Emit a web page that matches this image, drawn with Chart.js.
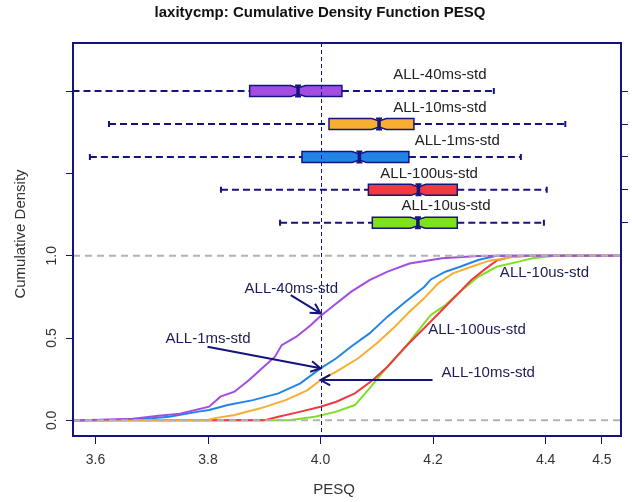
<!DOCTYPE html>
<html>
<head>
<meta charset="utf-8">
<script src="https://cdn.jsdelivr.net/npm/chart.js@4"></script>
<style>
  body { margin: 0; background: #fff; }
  canvas { display: block; }
</style>
</head>
<body>
<canvas id="c" width="632" height="502"></canvas>
<script>
// --- data ---
const seriesNames = ['ALL-40ms-std', 'ALL-10ms-std', 'ALL-1ms-std', 'ALL-100us-std', 'ALL-10us-std'];
const seriesColors = ['#a24ce2', '#f8ae30', '#2384e8', '#ee3a40', '#7fe020'];

const pesq40ms = [3.50, 3.576, 3.667, 3.712, 3.75, 3.802, 3.822, 3.847, 3.873, 3.899, 3.919, 3.931, 3.957, 3.983, 4.0, 4.028, 4.054, 4.087, 4.119, 4.158, 4.216, 4.28, 4.313, 4.60];
const cdf40ms  = [0, 0, 0.01, 0.028, 0.04, 0.083, 0.144, 0.174, 0.245, 0.326, 0.387, 0.457, 0.508, 0.579, 0.634, 0.71, 0.78, 0.852, 0.903, 0.953, 0.984, 0.998, 1, 1];

const pesq10ms = [3.50, 3.796, 3.81, 3.847, 3.893, 3.938, 3.977, 4.0, 4.028, 4.067, 4.1, 4.132, 4.158, 4.184, 4.209, 4.235, 4.268, 4.3, 4.345, 4.364, 4.60];
const cdf10ms  = [0, 0, 0.012, 0.032, 0.073, 0.123, 0.184, 0.245, 0.296, 0.377, 0.468, 0.569, 0.66, 0.741, 0.832, 0.893, 0.933, 0.97, 0.994, 1, 1];

const pesq1ms = [3.50, 3.60, 3.667, 3.731, 3.783, 3.802, 3.835, 3.88, 3.925, 3.964, 4.0, 4.028, 4.054, 4.087, 4.119, 4.151, 4.184, 4.196, 4.222, 4.248, 4.28, 4.313, 4.60];
const cdf1ms  = [0, 0, 0.004, 0.022, 0.053, 0.063, 0.093, 0.123, 0.164, 0.225, 0.316, 0.377, 0.447, 0.528, 0.63, 0.72, 0.81, 0.856, 0.903, 0.933, 0.974, 1, 1];

const pesq100us = [3.50, 3.899, 3.925, 3.957, 4.0, 4.028, 4.061, 4.093, 4.119, 4.151, 4.184, 4.216, 4.242, 4.268, 4.294, 4.313, 4.339, 4.377, 4.60];
const cdf100us  = [0, 0, 0.022, 0.047, 0.083, 0.113, 0.164, 0.245, 0.326, 0.447, 0.559, 0.67, 0.761, 0.852, 0.923, 0.97, 0.994, 1, 1];

const pesq10us = [3.50, 3.944, 3.99, 4.028, 4.061, 4.087, 4.119, 4.151, 4.184, 4.196, 4.222, 4.248, 4.28, 4.313, 4.352, 4.377, 4.416, 4.60];
const cdf10us  = [0, 0, 0.022, 0.053, 0.093, 0.194, 0.326, 0.447, 0.589, 0.64, 0.7, 0.781, 0.872, 0.933, 0.964, 0.984, 1, 1];

// boxplots (same order as seriesNames)
const boxRow   = [2.0, 1.8, 1.6, 1.4, 1.2];
const whiskLo  = [3.52, 3.624, 3.590, 3.823, 3.928];
const boxQ1    = [3.874, 4.015, 3.967, 4.085, 4.092];
const boxMed   = [3.960, 4.104, 4.069, 4.174, 4.173];
const boxQ3    = [4.038, 4.166, 4.157, 4.243, 4.243];
const whiskHi  = [4.308, 4.435, 4.356, 4.402, 4.397];
const notchHalf = [0.013, 0.013, 0.013, 0.013, 0.013];
const boxLabelX = [4.212, 4.212, 4.243, 4.193, 4.223];
const boxLabelY = [2.10, 1.90, 1.70, 1.50, 1.30];

// annotations on the curves
const noteText = ['ALL-40ms-std', 'ALL-1ms-std', 'ALL-10ms-std', 'ALL-10us-std', 'ALL-100us-std'];
const noteX    = [3.948, 3.800, 4.298, 4.398, 4.278];
const noteY    = [0.796, 0.492, 0.289, 0.897, 0.549];
const arrowFromX = [3.947, 3.799, 4.199];
const arrowFromY = [0.761, 0.447, 0.245];
const arrowToX   = [4.0, 4.0, 4.0];
const arrowToY   = [0.65, 0.316, 0.245];

const xTicks = [3.6, 3.8, 4.0, 4.2, 4.4, 4.5];
const yTicks = [0, 0.5, 1.0, 1.5, 2.0];
const yTickLabels = ['0.0', '0.5', '1.0'];
const rightTicks = boxRow;

const xMin = 3.56, xMax = 4.534, yMin = -0.095, yMax = 2.292;

const navy = '#14147c';
const font = '"Liberation Sans", Arial, Helvetica, sans-serif';

const curveX = [pesq40ms, pesq10ms, pesq1ms, pesq100us, pesq10us];
const curveY = [cdf40ms, cdf10ms, cdf1ms, cdf100us, cdf10us];

const datasets = seriesNames.map((name, i) => ({
    label: name,
    data: curveX[i].map((x, j) => ({ x: x, y: curveY[i][j] })),
    borderColor: seriesColors[i],
    borderWidth: 2,
    pointRadius: 0,
    tension: 0,
    fill: false
}));

function arrow(ctx, x0, y0, x1, y1) {
    const a = Math.atan2(y1 - y0, x1 - x0);
    const len = 11;
    ctx.beginPath();
    ctx.moveTo(x0, y0); ctx.lineTo(x1, y1);
    ctx.moveTo(x1 - len * Math.cos(a - 0.5), y1 - len * Math.sin(a - 0.5));
    ctx.lineTo(x1, y1);
    ctx.lineTo(x1 - len * Math.cos(a + 0.5), y1 - len * Math.sin(a + 0.5));
    ctx.stroke();
}

const decor = {
    id: 'decor',
    afterDatasetsDraw(chart) {
        const ctx = chart.ctx;
        const xs = chart.scales.x, ys = chart.scales.y;
        const area = chart.chartArea;
        const px = v => xs.getPixelForValue(v);
        const py = v => ys.getPixelForValue(v);

        ctx.save();
        ctx.beginPath();
        ctx.rect(area.left, area.top, area.right - area.left, area.bottom - area.top);
        ctx.clip();

        // grey reference lines at 0 and 1
        ctx.strokeStyle = '#b3b3b3';
        ctx.lineWidth = 2;
        ctx.setLineDash([7, 5]);
        [0, 1].forEach(v => {
            ctx.beginPath();
            ctx.moveTo(area.left, py(v)); ctx.lineTo(area.right, py(v));
            ctx.stroke();
        });

        // boxplots
        seriesNames.forEach((name, i) => {
            const yc = py(boxRow[i]);
            const h = 5.5, hn = 3;
            ctx.strokeStyle = navy;
            ctx.lineWidth = 2;
            ctx.setLineDash([7, 4]);
            ctx.beginPath();
            ctx.moveTo(px(whiskLo[i]), yc); ctx.lineTo(px(boxQ1[i]), yc);
            ctx.moveTo(px(boxQ3[i]), yc); ctx.lineTo(px(whiskHi[i]), yc);
            ctx.stroke();
            ctx.setLineDash([]);
            ctx.beginPath();
            ctx.moveTo(px(whiskLo[i]), yc - 3); ctx.lineTo(px(whiskLo[i]), yc + 3);
            ctx.moveTo(px(whiskHi[i]), yc - 3); ctx.lineTo(px(whiskHi[i]), yc + 3);
            ctx.stroke();

            const x1 = px(boxQ1[i]), x3 = px(boxQ3[i]), xm = px(boxMed[i]);
            const nl = px(boxMed[i] - notchHalf[i]), nr = px(boxMed[i] + notchHalf[i]);
            ctx.beginPath();
            ctx.moveTo(x1, yc - h);
            ctx.lineTo(nl, yc - h);
            ctx.lineTo(xm, yc - hn);
            ctx.lineTo(nr, yc - h);
            ctx.lineTo(x3, yc - h);
            ctx.lineTo(x3, yc + h);
            ctx.lineTo(nr, yc + h);
            ctx.lineTo(xm, yc + hn);
            ctx.lineTo(nl, yc + h);
            ctx.lineTo(x1, yc + h);
            ctx.closePath();
            ctx.fillStyle = seriesColors[i];
            ctx.fill();
            ctx.lineWidth = 1.5;
            ctx.stroke();
            // median mark
            ctx.lineWidth = 3.5;
            ctx.beginPath();
            ctx.moveTo(xm, yc - h); ctx.lineTo(xm, yc + h);
            ctx.stroke();
            ctx.lineWidth = 2;
            ctx.beginPath();
            ctx.moveTo(xm - 3, yc - h); ctx.lineTo(xm + 3, yc - h);
            ctx.moveTo(xm - 3, yc + h); ctx.lineTo(xm + 3, yc + h);
            ctx.stroke();
        });

        // vertical reference at 4.0
        ctx.strokeStyle = navy;
        ctx.lineWidth = 1;
        ctx.setLineDash([4, 3]);
        ctx.beginPath();
        ctx.moveTo(Math.round(px(4.0)) + 0.5, area.top);
        ctx.lineTo(Math.round(px(4.0)) + 0.5, area.bottom);
        ctx.stroke();
        ctx.setLineDash([]);

        // arrows
        ctx.lineWidth = 2;
        arrowFromX.forEach((v, i) => arrow(ctx, px(v), py(arrowFromY[i]), px(arrowToX[i]), py(arrowToY[i])));
        ctx.restore();

        // texts
        ctx.save();
        ctx.font = '15px ' + font;
        ctx.textAlign = 'center';
        ctx.textBaseline = 'middle';
        ctx.fillStyle = '#222';
        seriesNames.forEach((name, i) => ctx.fillText(name, px(boxLabelX[i]), py(boxLabelY[i])));
        ctx.fillStyle = '#1c1c58';
        noteText.forEach((t, i) => ctx.fillText(t, px(noteX[i]), py(noteY[i])));

        // frame
        ctx.strokeStyle = navy;
        ctx.lineWidth = 2;
        ctx.strokeRect(area.left, area.top, area.right - area.left, area.bottom - area.top);

        // y tick labels, parallel to axis
        ctx.fillStyle = '#333';
        ctx.font = '14px ' + font;
        yTickLabels.forEach(t => {
            ctx.save();
            ctx.translate(52, py(parseFloat(t)));
            ctx.rotate(-Math.PI / 2);
            ctx.fillText(t, 0, 0);
            ctx.restore();
        });

        // titles
        ctx.fillStyle = '#111';
        ctx.font = 'bold 15px ' + font;
        ctx.fillText('laxitycmp: Cumulative Density Function PESQ', 320, 13);
        ctx.fillStyle = '#333';
        ctx.font = '15px ' + font;
        ctx.fillText('PESQ', 334, 490);
        ctx.save();
        ctx.translate(21, 234);
        ctx.rotate(-Math.PI / 2);
        ctx.fillText('Cumulative Density', 0, 0);
        ctx.restore();
        ctx.restore();
    }
};

new Chart(document.getElementById('c'), {
    type: 'line',
    data: { datasets: datasets },
    options: {
        responsive: false,
        animation: false,
        events: [],
        layout: { padding: { top: 43, left: 0, right: 0, bottom: 0 } },
        plugins: { legend: { display: false }, tooltip: { enabled: false }, title: { display: false } },
        scales: {
            x: {
                type: 'linear', min: xMin, max: xMax,
                afterBuildTicks: s => { s.ticks = xTicks.map(v => ({ value: v })); },
                afterFit: s => { s.height = 66; },
                border: { display: false },
                grid: { drawOnChartArea: false, tickLength: 8, color: navy, lineWidth: 1 },
                ticks: { color: '#333', font: { family: font, size: 14 }, padding: 8, maxRotation: 0,
                         callback: v => v.toFixed(1) }
            },
            y: {
                type: 'linear', min: yMin, max: yMax,
                afterBuildTicks: s => { s.ticks = yTicks.map(v => ({ value: v })); },
                afterFit: s => { s.width = 73; },
                border: { display: false },
                grid: { drawOnChartArea: false, tickLength: 7, color: navy, lineWidth: 1 },
                ticks: { display: false }
            },
            y2: {
                type: 'linear', position: 'right', min: yMin, max: yMax,
                afterBuildTicks: s => { s.ticks = rightTicks.map(v => ({ value: v })); },
                afterFit: s => { s.width = 11; },
                border: { display: false },
                grid: { drawOnChartArea: false, tickLength: 7, color: navy, lineWidth: 1 },
                ticks: { display: false }
            }
        }
    },
    plugins: [decor]
});
</script>
</body>
</html>
